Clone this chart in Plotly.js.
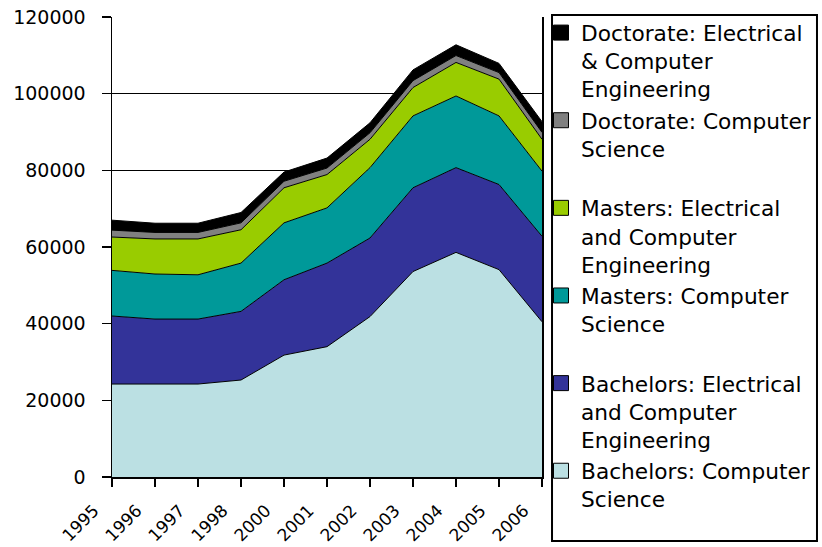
<!DOCTYPE html>
<html><head><meta charset="utf-8">
<script src="https://cdn.plot.ly/plotly-3.0.1.min.js"></script>
<style>html,body{margin:0;padding:0;background:#fff;}#chart{width:822px;height:547px;}</style>
</head><body><div id="chart"></div>
<script>
const years = ['1995','1996','1997','1998','2000','2001','2002','2003','2004','2005','2006'];
const bachelorsCS  = [24250, 24250, 24250, 25300, 31800, 34000, 41850, 53600, 58600, 54100, 40500];
const bachelorsECE = [17750, 16950, 16950, 17900, 19650, 21800, 20500, 21850, 22100, 22200, 22300];
const mastersCS    = [11900, 11750, 11550, 12600, 14850, 14400, 18350, 18750, 18700, 17900, 17000];
const mastersECE   = [8700, 9150, 9350, 8700, 9150, 8700, 7400, 7400, 8750, 9600, 8300];
const doctorateCS  = [1800, 1700, 1700, 1800, 1700, 1700, 1700, 1800, 1800, 1700, 1800];
const doctorateECE = [2600, 2400, 2400, 2700, 2400, 2600, 2600, 2800, 2800, 2400, 2800];

const seriesNames = [
  'Bachelors: Computer<br>Science',
  'Bachelors: Electrical<br>and Computer<br>Engineering',
  'Masters: Computer<br>Science<br>\u00a0',
  'Masters: Electrical<br>and Computer<br>Engineering',
  'Doctorate: Computer<br>Science<br>\u00a0',
  'Doctorate: Electrical<br>&amp; Computer<br>Engineering'
];
const seriesValues = [bachelorsCS, bachelorsECE, mastersCS, mastersECE, doctorateCS, doctorateECE];
const seriesColors = ['#BBE0E3', '#333399', '#009999', '#99CC00', '#808080', '#000000'];

const traces = [];
seriesValues.forEach((vals, i) => {
  traces.push({
    type: 'scatter', x: years, y: vals, stackgroup: 'one', mode: 'lines',
    line: {color: '#000', width: 1, shape: 'linear'},
    fillcolor: seriesColors[i], showlegend: false, hoverinfo: 'skip'
  });
});
// legend entries, top to bottom
for (let i = seriesValues.length - 1; i >= 0; i--) {
  traces.push({
    type: 'scatter', x: [null], y: [null], mode: 'markers', name: seriesNames[i],
    marker: {symbol: 'square', size: 15, color: seriesColors[i], line: {color: '#000', width: 1}},
    showlegend: true, hoverinfo: 'skip'
  });
}

const layout = {
  width: 822, height: 547,
  margin: {l: 112, r: 280, t: 17, b: 70, autoexpand: false},
  paper_bgcolor: '#fff', plot_bgcolor: '#fff',
  font: {family: 'DejaVu Sans', color: '#000', size: 20},
  showlegend: true,
  xaxis: {
    type: 'category', range: [0, years.length - 1],
    showline: true, linecolor: '#000', linewidth: 2,
    ticks: 'outside', ticklen: 8, tickcolor: '#000', tickwidth: 1.5,
    tickangle: -45, tickfont: {family: 'DejaVu Sans', size: 17},
    ticklabelstandoff: 7, ticklabelshift: -18,
    showgrid: false, zeroline: false, fixedrange: true
  },
  yaxis: {
    range: [0, 120000], dtick: 20000, tickformat: 'd',
    showline: true, linecolor: '#000', linewidth: 1.5, mirror: true,
    ticks: 'outside', ticklen: 9, tickcolor: '#000', tickwidth: 1.5,
    ticklabelstandoff: 12,
    showgrid: true, gridcolor: '#000', gridwidth: 1.5,
    zeroline: false, tickfont: {family: 'DejaVu Sans', size: 19}, fixedrange: true
  },
  legend: {
    x: 0.9977, xanchor: 'left', y: 1.0109, yanchor: 'top',
    bgcolor: 'rgba(0,0,0,0)', borderwidth: 0,
    traceorder: 'normal', valign: 'top', maxheight: 600,
    font: {family: 'DejaVu Sans', size: 21.7, color: '#000'}
  },
  shapes: [{
    type: 'rect', xref: 'paper', yref: 'paper',
    x0: 1.0233, x1: 1.6395, y0: -0.1391, y1: 1.0043,
    line: {color: '#000', width: 2}, fillcolor: 'rgba(0,0,0,0)', layer: 'below'
  }]
};

Plotly.newPlot('chart', traces, layout, {staticPlot: true});
</script>
</body></html>
